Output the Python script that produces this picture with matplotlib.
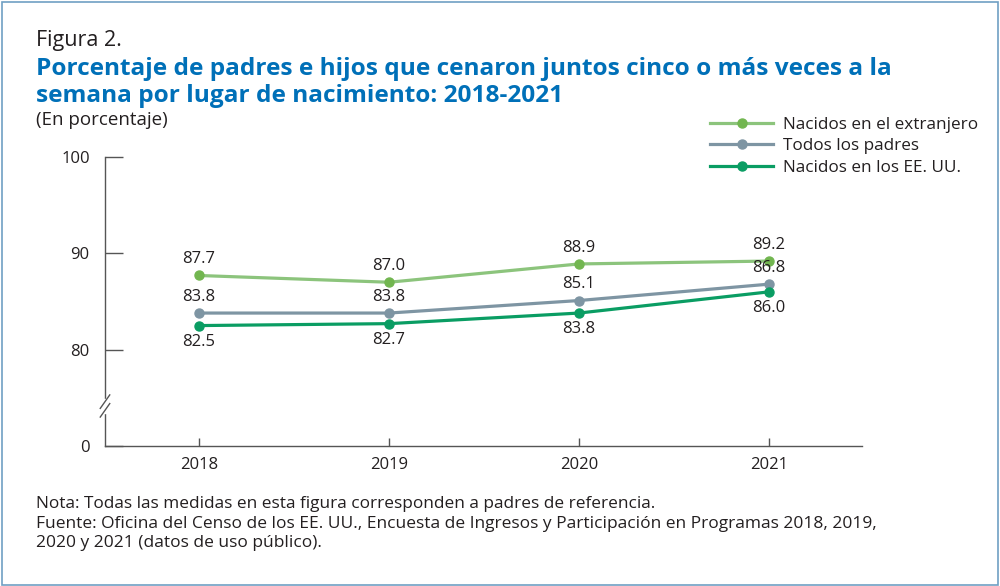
import matplotlib.pyplot as plt
from matplotlib.patches import Rectangle

plt.rcParams['font.family'] = ['Open Sans', 'DejaVu Sans']

# Data
years = [2018, 2019, 2020, 2021]
extranjero = [87.7, 87.0, 88.9, 89.2]
todos = [83.8, 83.8, 85.1, 86.8]
eeuu = [82.5, 82.7, 83.8, 86.0]
ytick_vals = [70, 80, 90, 100]
ytick_labels = ["0", "80", "90", "100"]

c_ext = "#8cc47c"
c_ext_mk = "#72b650"
c_todos = "#7e95a3"
c_eeuu = "#0a9d63"
c_text = "#231f20"
c_axis = "#555555"

fig = plt.figure(figsize=(10, 5.86), dpi=100)
fig.patches.append(Rectangle((0.002, 0.002), 0.996, 0.995, transform=fig.transFigure,
                             fill=False, edgecolor="#6f9fc4", linewidth=1.2))

ax = fig.add_axes([0.105, 0.239, 0.757, 0.493])

ax.plot(years, extranjero, color=c_ext, lw=2.3, marker="o", ms=6.5,
        mfc=c_ext_mk, mec=c_ext_mk, label="Nacidos en el extranjero")
ax.plot(years, todos, color=c_todos, lw=2.3, marker="o", ms=6.5,
        label="Todos los padres")
ax.plot(years, eeuu, color=c_eeuu, lw=2.3, marker="o", ms=6.5,
        label="Nacidos en los EE. UU.")

for x, v in zip(years, extranjero):
    ax.annotate(f"{v:.1f}", (x, v), xytext=(0, 6), textcoords="offset points",
                ha="center", va="bottom", fontsize=12, color=c_text)
for x, v in zip(years, todos):
    ax.annotate(f"{v:.1f}", (x, v), xytext=(0, 6), textcoords="offset points",
                ha="center", va="bottom", fontsize=12, color=c_text)
for x, v in zip(years, eeuu):
    ax.annotate(f"{v:.1f}", (x, v), xytext=(0, -6), textcoords="offset points",
                ha="center", va="top", fontsize=12, color=c_text)

ax.set_xlim(2017.505, 2021.49)
ax.set_ylim(70, 100)
ax.set_xticks(years)
ax.set_yticks(ytick_vals)
ax.set_yticklabels(ytick_labels)
ax.tick_params(axis="y", direction="in", length=13, width=1, color=c_axis,
               labelsize=12, labelcolor=c_text, pad=11)
ax.tick_params(axis="x", direction="in", length=6, width=1, color=c_axis,
               labelsize=12, labelcolor=c_text, pad=8)
for s in ["top", "right"]:
    ax.spines[s].set_visible(False)
for s in ["left", "bottom"]:
    ax.spines[s].set_color(c_axis)
    ax.spines[s].set_linewidth(1)

# axis break mark
bx = 2017.505
ax.fill_between([bx - 0.006, bx + 0.006], 73.4, 74.9, color="white", zorder=5, clip_on=False)
ax.plot([bx - 0.025, bx + 0.025], [73.9, 75.3], color=c_axis, lw=1, clip_on=False, zorder=6)
ax.plot([bx - 0.025, bx + 0.025], [73.0, 74.4], color=c_axis, lw=1, clip_on=False, zorder=6)

leg = ax.legend(loc="upper left", bbox_to_anchor=(0.695, 0.826), bbox_transform=fig.transFigure,
                frameon=False, fontsize=12.3, handlelength=3.65, labelspacing=0.3,
                handletextpad=0.6)
for t in leg.get_texts():
    t.set_color(c_text)

fig.text(0.036, 0.9215, "Figura 2.", fontsize=15.5, color=c_text, va="baseline")
fig.text(0.036, 0.872, "Porcentaje de padres e hijos que cenaron juntos cinco o más veces a la",
         fontsize=17.6, fontweight="bold", color="#0070b8", va="baseline")
fig.text(0.036, 0.826, "semana por lugar de nacimiento: 2018-2021",
         fontsize=17.6, fontweight="bold", color="#0070b8", va="baseline")
fig.text(0.036, 0.787, "(En porcentaje)", fontsize=13.5, color=c_text, va="baseline")

fig.text(0.036, 0.133, "Nota: Todas las medidas en esta figura corresponden a padres de referencia.",
         fontsize=12.4, color=c_text, va="baseline")
fig.text(0.036, 0.099, "Fuente: Oficina del Censo de los EE. UU., Encuesta de Ingresos y Participación en Programas 2018, 2019,",
         fontsize=12.5, color=c_text, va="baseline")
fig.text(0.036, 0.0666, "2020 y 2021 (datos de uso público).", fontsize=12.5, color=c_text, va="baseline")

fig.savefig("out.png", dpi=100)
